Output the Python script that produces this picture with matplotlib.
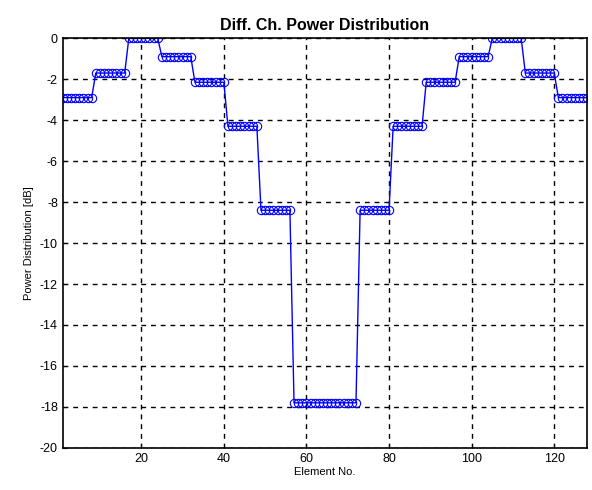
import numpy as np
import matplotlib
matplotlib.use('Agg')
import matplotlib.pyplot as plt

# taper levels in dB, one per group of elements
group_levels = [-2.9, -1.7, 0.0, -0.9, -2.15, -4.3, -8.4, -17.8,
                -8.4, -4.3, -2.15, -0.9, 0.0, -1.7, -2.9]
group_sizes = [8, 8, 8, 8, 8, 8, 8, 16, 8, 8, 8, 8, 8, 8, 8]

power_db = np.repeat(group_levels, group_sizes)
elements = np.arange(1, len(power_db) + 1)

plt.rcParams['font.family'] = ['Liberation Sans', 'DejaVu Sans']
plt.rcParams['axes.unicode_minus'] = False

fig = plt.figure(figsize=(5.92, 4.9), dpi=100)
ax = fig.add_axes([0.106, 0.086, 0.886, 0.836])

ax.plot(elements, power_db, color='blue', linewidth=1, marker='o',
        markersize=6, markerfacecolor='none', markeredgecolor='blue',
        markeredgewidth=0.8)

ax.set_xlim(1, 128)
ax.set_ylim(-20, 0)
ax.set_xticks([20, 40, 60, 80, 100, 120])
ax.set_yticks(np.arange(-20, 1, 2))
ax.grid(True, color='black', linestyle=(0, (3.5, 3.5)), linewidth=1)
ax.tick_params(direction='in', labelsize=9, length=3)
for s in ax.spines.values():
    s.set_linewidth(1.2)

ax.set_title('Diff. Ch. Power Distribution', fontsize=11.5, fontweight='bold')
ax.set_xlabel('Element No.', fontsize=8, labelpad=2)
ax.set_ylabel('Power Distribution [dB]', fontsize=8, labelpad=4)

fig.savefig('out.png', dpi=100)
